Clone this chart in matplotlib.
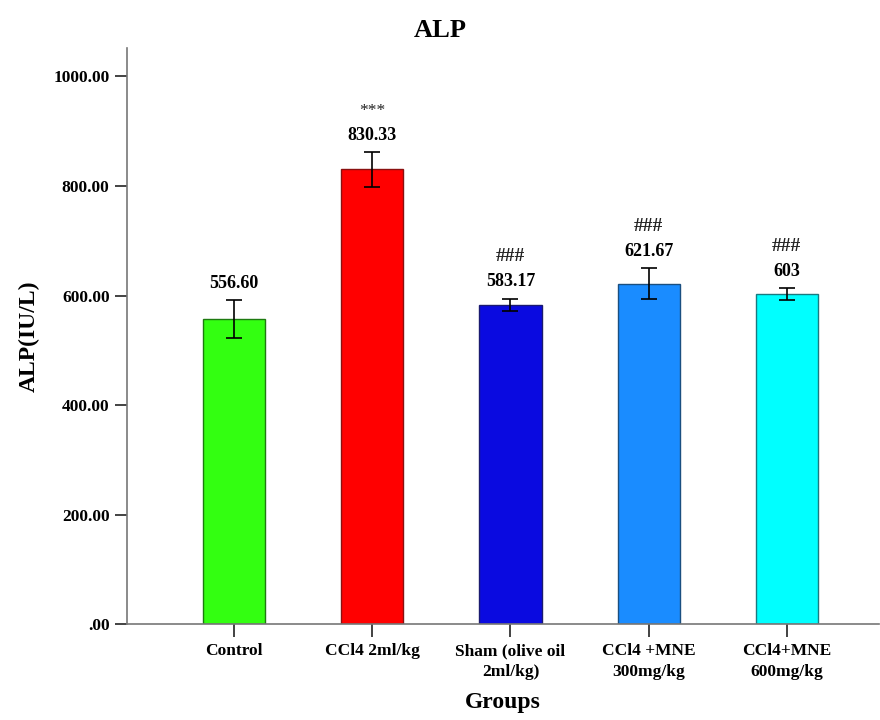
import matplotlib
matplotlib.use("Agg")
import matplotlib.pyplot as plt

groups = ["Control", "CCl4 2ml/kg", "Sham (olive oil\n2ml/kg)", "CCl4 +MNE\n300mg/kg", "CCl4+MNE\n600mg/kg"]
means = [556.60, 830.33, 583.17, 621.67, 603]
errors = [35, 32, 11, 28, 11]
value_labels = ["556.60", "830.33", "583.17", "621.67", "603"]
marks = ["", "***", "###", "###", "###"]
colors = ["#33ff11", "#ff0000", "#0a0ae0", "#1a8cff", "#00ffff"]
edges = ["#1e7a10", "#8a1010", "#1a1a70", "#1a4f80", "#1a7a80"]
yticks = [0, 200, 400, 600, 800, 1000]
ytick_labels = [".00", "200.00", "400.00", "600.00", "800.00", "1000.00"]

plt.rcParams["font.family"] = ["Liberation Serif", "DejaVu Serif"]

fig = plt.figure(figsize=(8.8, 7.2), dpi=100)
ax = fig.add_axes([0.1443, 0.1333, 0.855, 0.8])

x = list(range(len(groups)))
ax.bar(x, means, width=0.45, color=colors, edgecolor=edges, linewidth=1.0, zorder=2)
ax.errorbar(x, means, yerr=errors, fmt="none", ecolor="black", elinewidth=1.2,
            capsize=6, capthick=1.2, zorder=3)

for xi, m, e, lab, mk in zip(x, means, errors, value_labels, marks):
    ax.annotate(lab, (xi, m + e), xytext=(0, 6), textcoords="offset points",
                ha="center", va="bottom", fontsize=13, fontweight="bold")
    if mk:
        ax.annotate(mk, (xi, m + e), xytext=(0, 24), textcoords="offset points",
                    ha="center", va="bottom",
                    fontsize=14 if mk.startswith("#") else 12.5,
                    fontweight="bold" if mk.startswith("#") else "normal",
                    color="#222222")

ax.set_xlim(-0.775, 4.67)
ax.set_ylim(0, 1052)
ax.set_yticks(yticks)
ax.set_yticklabels(ytick_labels, fontsize=12.5, fontweight="bold")
ax.set_xticks(x)
ax.set_xticklabels(groups, fontsize=12.5, fontweight="bold", linespacing=1.35)
ax.tick_params(axis="both", direction="out", length=9, width=1.2, color="#222222")
ax.tick_params(axis="x", pad=5)

for s in ["top", "right"]:
    ax.spines[s].set_visible(False)
for s in ["left", "bottom"]:
    ax.spines[s].set_color("#777777")
    ax.spines[s].set_linewidth(1.2)

ax.set_ylabel("ALP(IU/L)", fontsize=17, fontweight="bold", labelpad=10)
ax.set_xlabel("Groups", fontsize=17, fontweight="bold", labelpad=9)
fig.text(0.5, 0.958, "ALP", ha="center", va="center", fontsize=19, fontweight="bold")

fig.savefig("out.png", dpi=100)
